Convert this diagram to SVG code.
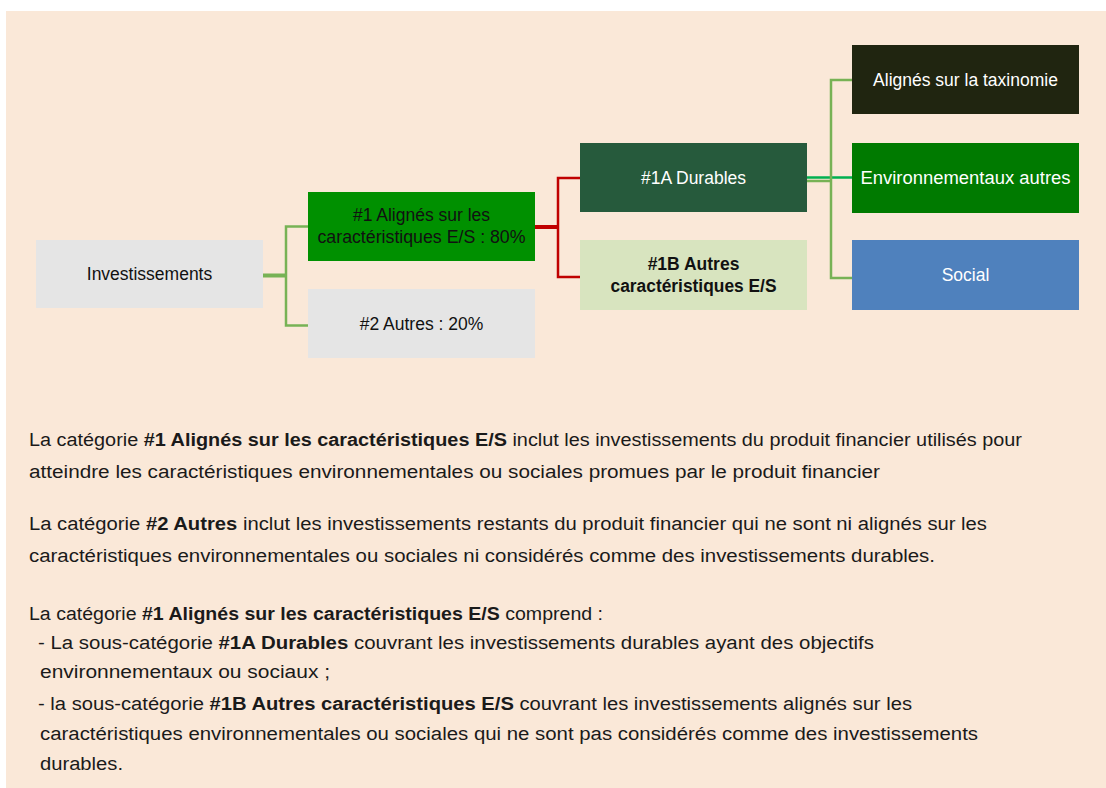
<svg xmlns="http://www.w3.org/2000/svg" width="1106" height="788" viewBox="0 0 1106 788">
<style>
.n{font-family:"Liberation Sans",Arial,sans-serif;font-size:17.5px;text-anchor:middle}
.p{font-family:"Liberation Sans",Arial,sans-serif;font-size:18px;fill:#1a1a1a}
.b{font-weight:bold}
.g{fill:none;stroke:#77B255;stroke-width:2.5}
.r{fill:none;stroke:#C00000;stroke-width:2.5}
</style>
<rect x="0" y="0" width="1106" height="788" fill="#ffffff"/>
<rect x="6" y="11" width="1100" height="777" fill="#FAE8D8"/>
<g id="connectors">
<line x1="263" y1="275.5" x2="286" y2="275.5" stroke="#77B255" stroke-width="4"/>
<path class="g" d="M308 226.5 H286 V325.5 H308"/>
<line x1="535" y1="227" x2="558" y2="227" stroke="#C00000" stroke-width="4"/>
<path class="r" d="M580 178 H558 V277 H580"/>
<line x1="807" y1="181" x2="831" y2="181" stroke="#77B255" stroke-width="2.5"/>
<line x1="807" y1="177.5" x2="852" y2="177.5" stroke="#00B050" stroke-width="2.5"/>
<path class="g" d="M852 80 H831 V278 H852"/>
</g>
<g id="n-invest"><rect x="36" y="240" width="227" height="68" fill="#E5E5E5"/><text class="n" x="149.5" y="280" fill="#111">Investissements</text></g>
<g id="n-1"><rect x="308" y="192" width="227" height="69" fill="#009000"/><text class="n" x="421.5" y="221" fill="#111">#1 Alignés sur les</text><text class="n" x="421.5" y="243" fill="#111" textLength="208" lengthAdjust="spacingAndGlyphs">caractéristiques E/S : 80%</text></g>
<g id="n-2"><rect x="308" y="289" width="227" height="69" fill="#E5E5E5"/><text class="n" x="421.5" y="330" fill="#111">#2 Autres : 20%</text></g>
<g id="n-1a"><rect x="580" y="143" width="227" height="69" fill="#265A3C"/><text class="n" x="693.5" y="184" fill="#fff">#1A Durables</text></g>
<g id="n-1b"><rect x="580" y="240" width="227" height="70" fill="#D8E4BF"/><text class="n b" x="693.5" y="270" fill="#111">#1B Autres</text><text class="n b" x="693.5" y="292" fill="#111" textLength="166" lengthAdjust="spacingAndGlyphs">caractéristiques E/S</text></g>
<g id="n-tax"><rect x="852" y="45" width="227" height="69" fill="#202510"/><text class="n" x="965.5" y="86" fill="#fff">Alignés sur la taxinomie</text></g>
<g id="n-env"><rect x="852" y="143" width="227" height="70" fill="#007A00"/><text class="n" x="965.5" y="184" fill="#fff" textLength="210" lengthAdjust="spacingAndGlyphs">Environnementaux autres</text></g>
<g id="n-soc"><rect x="852" y="240" width="227" height="70" fill="#4F81BD"/><text class="n" x="965.5" y="281" fill="#fff">Social</text></g>
<g id="paragraphs">
<text class="p" x="29" y="446" textLength="993" lengthAdjust="spacingAndGlyphs">La catégorie <tspan class="b">#1 Alignés sur les caractéristiques E/S</tspan> inclut les investissements du produit financier utilisés pour</text>
<text class="p" x="29" y="478" textLength="851" lengthAdjust="spacingAndGlyphs">atteindre les caractéristiques environnementales ou sociales promues par le produit financier</text>
<text class="p" x="29" y="530" textLength="958" lengthAdjust="spacingAndGlyphs">La catégorie <tspan class="b">#2 Autres</tspan> inclut les investissements restants du produit financier qui ne sont ni alignés sur les</text>
<text class="p" x="29" y="562" textLength="906" lengthAdjust="spacingAndGlyphs">caractéristiques environnementales ou sociales ni considérés comme des investissements durables.</text>
<text class="p" x="29" y="620" textLength="574" lengthAdjust="spacingAndGlyphs">La catégorie <tspan class="b">#1 Alignés sur les caractéristiques E/S</tspan> comprend :</text>
<text class="p" x="38" y="649" textLength="836" lengthAdjust="spacingAndGlyphs">-  La sous-catégorie <tspan class="b">#1A Durables</tspan> couvrant les investissements durables ayant des objectifs</text>
<text class="p" x="40" y="678" textLength="290" lengthAdjust="spacingAndGlyphs">environnementaux ou sociaux ;</text>
<text class="p" x="38" y="710" textLength="874" lengthAdjust="spacingAndGlyphs">-  la sous-catégorie <tspan class="b">#1B Autres caractéristiques E/S</tspan> couvrant les investissements alignés sur les</text>
<text class="p" x="40" y="740" textLength="938" lengthAdjust="spacingAndGlyphs">caractéristiques environnementales ou sociales qui ne sont pas considérés comme des investissements</text>
<text class="p" x="40" y="770" textLength="83" lengthAdjust="spacingAndGlyphs">durables.</text>
</g>
</svg>
